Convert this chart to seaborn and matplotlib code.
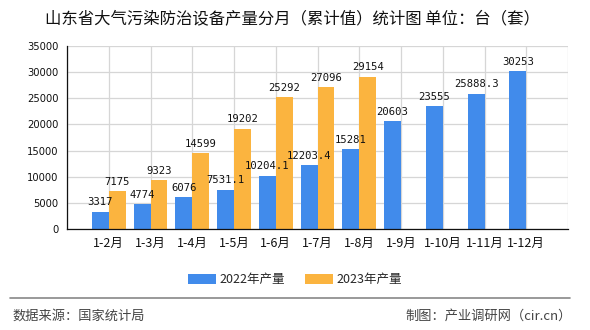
import matplotlib
matplotlib.use("Agg")
import matplotlib.pyplot as plt
import seaborn as sns
import pandas as pd
import numpy as np

categories = ["1-2月", "1-3月", "1-4月", "1-5月", "1-6月", "1-7月", "1-8月",
              "1-9月", "1-10月", "1-11月", "1-12月"]
values_2022 = [3317, 4774, 6076, 7531.1, 10204.1, 12203.4, 15281,
               20603, 23555, 25888.3, 30253]
values_2023 = [7175, 9323, 14599, 19202, 25292, 27096, 29154]
labels_2022 = ["3317", "4774", "6076", "7531.1", "10204.1", "12203.4", "15281",
               "20603", "23555", "25888.3", "30253"]
labels_2023 = ["7175", "9323", "14599", "19202", "25292", "27096", "29154"]
series_names = ["2022年产量", "2023年产量"]
yticks = [0, 5000, 10000, 15000, 20000, 25000, 30000, 35000]

rows = []
for c, v in zip(categories, values_2022):
    rows.append((c, series_names[0], v))
for c, v in zip(categories, values_2023):
    rows.append((c, series_names[1], v))
df = pd.DataFrame(rows, columns=["month", "series", "value"])

sns.set_theme(style="white")
plt.rcParams["font.family"] = ["Noto Sans CJK SC", "DejaVu Sans"]

fig = plt.figure(figsize=(5.9, 3.3), dpi=100)
ax = fig.add_axes([67 / 590, 101 / 330, 501 / 590, 183 / 330])

colors = ["#418BEB", "#FBB43F"]
sns.barplot(data=df, x="month", y="value", hue="series", order=categories,
            hue_order=series_names, palette=colors, width=0.81, ax=ax,
            saturation=1, legend=True, linewidth=0, edgecolor="none")

n = len(categories)
ax.set_ylim(0, 35000)
ax.set_xlim(-1, n)
ax.set_yticks(yticks)
ax.set_yticklabels([str(t) for t in yticks], fontsize=7.2, family="DejaVu Sans")
ax.set_xticks(list(range(-1, n + 1)))
ax.set_xticklabels([""] + categories + [""], fontsize=9)
ax.tick_params(axis="x", length=4, width=0.9, color="#111111", direction="out", pad=2,
               labelcolor="#111111")
ax.tick_params(axis="y", length=4, width=0.9, color="#111111", direction="out", pad=2,
               labelcolor="#111111")
ax.grid(True, axis="both", color="#d6d6d6", linewidth=0.9)
ax.set_axisbelow(True)
ax.set_xlabel("")
ax.set_ylabel("")
for side in ["top", "right"]:
    ax.spines[side].set_visible(False)
for side in ["left", "bottom"]:
    ax.spines[side].set_color("#111111")
    ax.spines[side].set_linewidth(0.9)

for cont, labs in zip(ax.containers, [labels_2022, labels_2023]):
    ax.bar_label(cont, labels=labs[:len(cont)], fontsize=7.6, padding=3,
                 family="DejaVu Sans Mono", color="#111111")

handles, lbls = ax.get_legend_handles_labels()
ax.legend_.remove()
fig.legend(handles, lbls, loc="center", bbox_to_anchor=(0.5, 1 - 280 / 330), ncol=2,
           frameon=False, fontsize=9, handlelength=2.2, handleheight=0.8,
           columnspacing=1.6, handletextpad=0.3)

fig.text(292 / 590, 1 - 19 / 330, "山东省大气污染防治设备产量分月（累计值）统计图 单位：台（套）",
         ha="center", va="center", fontsize=11.8, color="#111111")
fig.add_artist(plt.Line2D([10 / 590, 570 / 590], [1 - 298 / 330, 1 - 298 / 330],
                          color="#888888", linewidth=1.2, transform=fig.transFigure))
fig.text(12 / 590, 1 - 316 / 330, "数据来源：国家统计局", ha="left", va="center",
         fontsize=9.5, color="#444444")
fig.text(572 / 590, 1 - 316 / 330, "制图：产业调研网（cir.cn）", ha="right", va="center",
         fontsize=9.5, color="#444444")

fig.savefig("out.png", dpi=100)
